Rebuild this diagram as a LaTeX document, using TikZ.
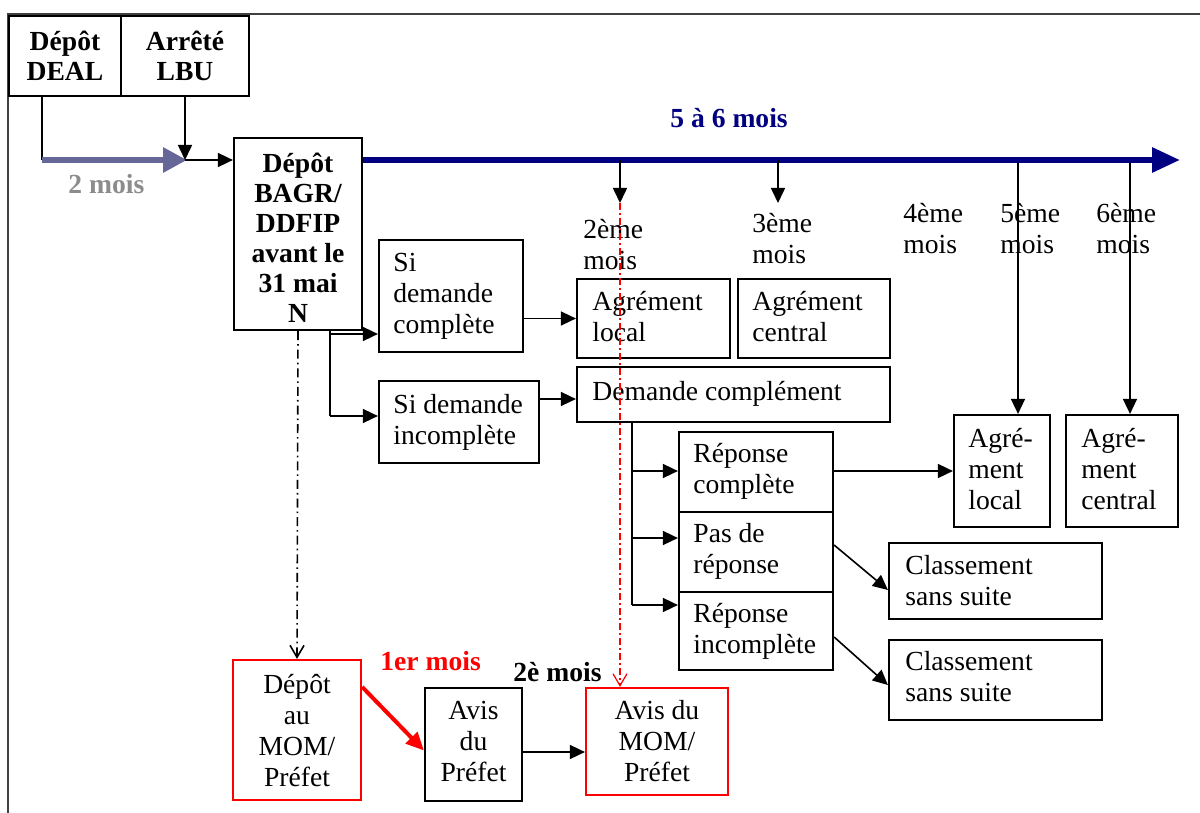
\documentclass[tikz,border=0pt]{standalone}
\usepackage{fontspec}
\setmainfont{Liberation Serif}
\usetikzlibrary{arrows.meta,fit,calc}
\definecolor{navyc}{RGB}{0,0,128}
\definecolor{purp}{RGB}{102,102,153}
\definecolor{greyt}{RGB}{140,140,140}
\newcommand\txtL[1]{\begin{tabular}[t]{@{}l@{}}#1\end{tabular}}
\newcommand\txtC[1]{\begin{tabular}[t]{@{}c@{}}#1\end{tabular}}
\begin{document}
\begin{tikzpicture}[x=0.5pt,y=-0.5pt,
  box/.style={draw, line width=1.1pt, inner sep=0pt},
  redbox/.style={draw=red, line width=1.1pt, inner sep=0pt},
  txt/.style={inner sep=0pt, anchor=base west, font=\fontsize{13.8}{15.5}\selectfont},
  ctxt/.style={txt, anchor=base},
  btxt/.style={inner sep=0pt, anchor=base west, font=\fontsize{13.8}{15.5}\selectfont\bfseries},
  cbtxt/.style={btxt, anchor=base},
  conn/.style={line width=0.8pt},
  arr/.style={conn, -{Triangle[length=7.5pt,width=7pt]}},
  navyarr/.style={line width=3pt, draw=navyc, -{Triangle[length=14pt,width=12pt]}},
  purparr/.style={line width=3pt, draw=purp, -{Triangle[length=12pt,width=12pt]}},
  redarr/.style={line width=2pt, draw=red, -{Triangle[length=9pt,width=8pt]}},
  blackdd/.style={line width=0.8pt, dash pattern=on 4.5pt off 2pt on 0.8pt off 2pt, -{Straight Barb[length=6pt,width=7pt]}},
  reddd/.style={line width=0.6pt, draw=red, dash pattern=on 3.5pt off 1.5pt on 1pt off 1.5pt, -{Straight Barb[length=6pt,width=7pt]}},
  frame/.style={line width=1.2pt, draw=black!75}
]
\useasboundingbox (0,0) rectangle (1200,813);
\draw[frame] (1200,14) -- (8,14) -- (8,813);

% boxes
\node[box, fit={(9,16) (121,96)}] (deal) {};
\node[box, fit={(121,16) (249,96)}] (lbu) {};
\node[box, fit={(234,138) (362,330)}] (bagr) {};
\node[box, fit={(379,240) (523,352)}] (sdc) {};
\node[box, fit={(379,381) (539,463)}] (sdi) {};
\node[box, fit={(577,279) (730,358)}] (al) {};
\node[box, fit={(738,279) (890,358)}] (ac) {};
\node[box, fit={(577,367) (890,422)}] (dc) {};
\node[box, fit={(679,432) (833,512)}] (rc) {};
\node[box, fit={(679,512) (833,592)}] (pr) {};
\node[box, fit={(679,592) (833,670)}] (ri) {};
\node[box, fit={(954,415) (1050,527)}] (al2) {};
\node[box, fit={(1066,415) (1178,527)}] (ac2) {};
\node[box, fit={(889,543) (1102,619)}] (css1) {};
\node[box, fit={(889,640) (1102,720)}] (css2) {};
\node[redbox, fit={(233,660) (361,800)}] (dmom) {};
\node[box, fit={(425,688) (522,801)}] (ap) {};
\node[redbox, fit={(586,688) (728,795)}] (amom) {};

% texts
\node[cbtxt, font=\fontsize{13.8}{14.8}\selectfont\bfseries] (tdeal) at (65,51) {\txtC{Dépôt\\DEAL}};
\node[cbtxt, font=\fontsize{13.8}{14.8}\selectfont\bfseries] (tlbu) at (185,51) {\txtC{Arrêté\\LBU}};
\node[btxt, text=greyt] (t2m) at (68,193) {2 mois};
\node[cbtxt, font=\fontsize{13.8}{15}\selectfont\bfseries] (tbagr) at (298,172) {\txtC{Dépôt\\BAGR/\\DDFIP\\avant le\\31 mai\\N}};
\node[btxt, text=navyc] (t56) at (670,127) {5 à 6 mois};
\node[txt] (tm2) at (583,238) {\txtL{2ème\\mois}};
\node[txt] (tm3) at (752,233) {\txtL{3ème\\mois}};
\node[txt] (tm4) at (903,222) {\txtL{4ème\\mois}};
\node[txt] (tm5) at (1000,222) {\txtL{5ème\\mois}};
\node[txt] (tm6) at (1096,222) {\txtL{6ème\\mois}};
\node[txt] (tsdc) at (393,271) {\txtL{Si\\demande\\complète}};
\node[txt] (tsdi) at (393,413) {\txtL{Si demande\\incomplète}};
\node[txt] (tal) at (592,310) {\txtL{Agrément\\local}};
\node[txt] (tac) at (752,310) {\txtL{Agrément\\central}};
\node[txt] (tdc) at (592,400) {Demande complément};
\node[txt] (trc) at (693,462) {\txtL{Réponse\\complète}};
\node[txt] (tpr) at (693,542) {\txtL{Pas de\\réponse}};
\node[txt] (tri) at (693,622) {\txtL{Réponse\\incomplète}};
\node[txt] (tal2) at (968,447) {\txtL{Agré-\\ment\\local}};
\node[txt] (tac2) at (1081,447) {\txtL{Agré-\\ment\\central}};
\node[txt] (tcss1) at (905,574) {\txtL{Classement\\sans suite}};
\node[txt] (tcss2) at (905,670) {\txtL{Classement\\sans suite}};
\node[ctxt] (tdmom) at (297,693) {\txtC{Dépôt\\au\\MOM/\\Préfet}};
\node[btxt, text=red] (t1er) at (380,670) {1er mois};
\node[btxt] (t2e) at (513,681) {2è mois};
\node[ctxt] (tap) at (473.5,719) {\txtC{Avis\\du\\Préfet}};
\node[ctxt] (tamom) at (657,719) {\txtC{Avis du\\MOM/\\Préfet}};

% top connectors
\coordinate (p0) at (42,160);
\coordinate (p1) at (185,160);
\draw[conn] (deal.south -| p0) -- (p0);
\draw[purparr] (p0) -- ([xshift=1pt]p1);
\draw[arr] (lbu.south) -- (p1);
\draw[arr] (p1) -- (bagr.west |- p1);

% timeline
\coordinate (tl0) at (bagr.east |- p1);
\coordinate (tl1) at (1180,160);
\coordinate (t2) at (620,160);
\coordinate (t3) at (778,160);
\coordinate (t5) at (1018,160);
\coordinate (t6) at (1130,160);
\coordinate (t2b) at (620,203);
\coordinate (t3b) at (778,203);
\draw[arr] (t5) -- (t5 |- al2.north);
\draw[arr] (t6) -- (t6 |- ac2.north);
\draw[navyarr] (tl0) -- (tl1);
\draw[arr] (t2) -- (t2b);
\draw[arr] (t3) -- (t3b);
\draw[reddd] (t2b) -- (t2b |- amom.north);
\draw[blackdd] (bagr.south) -- (dmom.north);

% BAGR splits
\coordinate (j1) at (330,334);
\coordinate (j2) at (330,416);
\draw[conn] (bagr.south -| j1) -- (j2);
\draw[arr] (j1) -- (sdc.west |- j1);
\draw[arr] (j2) -- (sdi.west |- j2);
\draw[arr] (sdc.east |- al.west) -- (al.west);
\coordinate (q1) at (539,399);
\draw[arr] (sdi.east |- q1) -- (dc.west |- q1);

% Demande complement splits
\coordinate (k0) at (632,422);
\coordinate (k1) at (632,471);
\coordinate (k2) at (632,538);
\coordinate (k3) at (632,605);
\draw[conn] (k0) -- (k3);
\draw[arr] (k1) -- (rc.west |- k1);
\draw[arr] (k2) -- (pr.west |- k2);
\draw[arr] (k3) -- (ri.west |- k3);
\draw[arr] (rc.east |- k1) -- (al2.west |- k1);
\draw[arr] ([yshift=3.5pt]pr.east) -- ([yshift=-4.5pt]css1.west);
\draw[arr] ([yshift=-3pt]ri.east) -- ([yshift=-2.5pt]css2.west);

% bottom
\draw[redarr] ([yshift=-14pt]dmom.north east) -- ([yshift=-3pt]ap.west);
\coordinate (q2) at ([yshift=-3.75pt]ap.east);
\draw[arr] (q2) -- (amom.west |- q2);
\end{tikzpicture}
\end{document}
